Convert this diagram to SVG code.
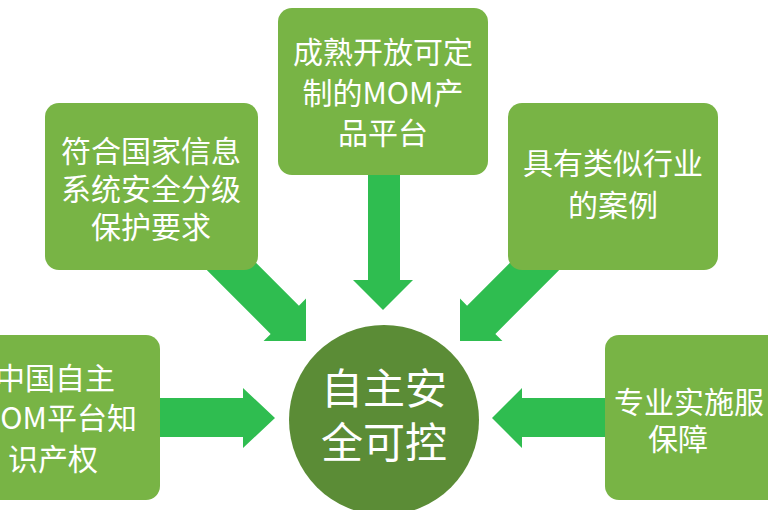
<svg xmlns="http://www.w3.org/2000/svg" width="768" height="510" viewBox="0 0 768 510">
<style>
.box{fill:#78b445}
.arr{fill:#2fbd50}
.t{font-family:"Noto Sans CJK SC","Liberation Sans",sans-serif;font-size:30px;fill:#fff}
.c{text-anchor:middle}
</style>
<rect width="768" height="510" fill="#fff"/>
<g id="connectors">
<polygon class="arr" points="160,398 243,398 243,388 275,418 243,448 243,437 160,437"/>
<polygon class="arr" points="605,398 522,398 522,388 492,418 522,448 522,437 605,437"/>
<polygon class="arr" points="368,175 368,280 353,280 383,310 413,280 400,280 400,175"/>
<g transform="translate(306,341) rotate(45)"><polygon class="arr" points="0,0 -30,-30 -30,-20 -120,-20 -120,20 -30,20 -30,30"/></g>
<g transform="translate(460,341) rotate(135)"><polygon class="arr" points="0,0 -30,-30 -30,-20 -120,-20 -120,20 -30,20 -30,30"/></g>
</g>
<g id="center"><circle cx="384" cy="420" r="95" fill="#5b8c36"/>
<text class="t c" x="384" y="404" style="font-size:42px">自主安</text>
<text class="t c" x="384" y="458" style="font-size:42px">全可控</text></g>
<g id="top"><rect class="box" x="278" y="8" width="210" height="167" rx="14"/>
<text class="t c" x="383" y="63">成熟开放可定</text>
<text class="t c" x="383" y="104">制的MOM产</text>
<text class="t c" x="383" y="144">品平台</text></g>
<g id="topleft"><rect class="box" x="45" y="103" width="213" height="167" rx="14"/>
<text class="t c" x="151" y="162">符合国家信息</text>
<text class="t c" x="151" y="200">系统安全分级</text>
<text class="t c" x="151" y="238">保护要求</text></g>
<g id="topright"><rect class="box" x="508" y="103" width="210" height="167" rx="14"/>
<text class="t c" x="613" y="174">具有类似行业</text>
<text class="t c" x="613" y="216">的案例</text></g>
<g id="left"><rect class="box" x="-20" y="335" width="180" height="165" rx="14"/>
<text class="t" x="-5" y="389">中国自主</text>
<text class="t" x="-24" y="429">MOM平台知</text>
<text class="t" x="8" y="470">识产权</text></g>
<g id="right"><rect class="box" x="605" y="335" width="180" height="165" rx="14"/>
<text class="t" x="614" y="413">专业实施服</text>
<text class="t" x="648" y="450">保障</text></g>
</svg>
